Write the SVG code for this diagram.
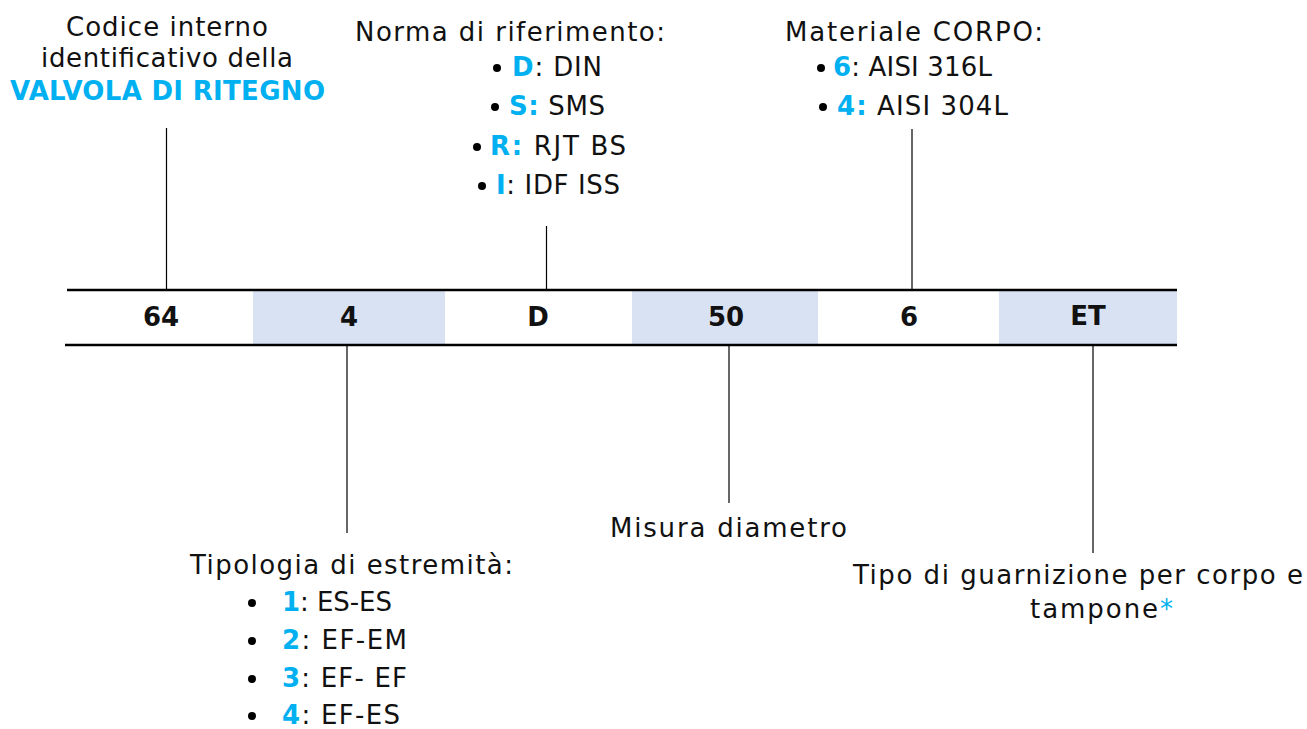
<svg xmlns="http://www.w3.org/2000/svg" width="1307" height="729" viewBox="0 0 1307 729">
<style>
  text { font-family: "DejaVu Sans", "Liberation Sans", sans-serif; fill: #111; }
  .t { font-size: 26px; }
  .b { font-weight: bold; }
  .c { fill: #00B0F0; font-weight: bold; }
  .ast { fill: #00B0F0; }
  .cell { font-size: 26px; font-weight: bold; text-anchor: middle; }
  .blue { fill: #D9E2F3; }
  .rule { stroke: #000; stroke-width: 2.5; }
  .conn line { stroke: #000; stroke-width: 1.2; }
  .dot { fill: #000; }
</style>
<rect width="1307" height="729" fill="#fff"/>

<g id="table">
  <rect class="blue" x="253" y="291" width="192" height="53"/>
  <rect class="blue" x="632" y="291" width="186" height="53"/>
  <rect class="blue" x="999" y="291" width="178" height="53"/>
  <line class="rule" x1="67" y1="290" x2="1177" y2="290"/>
  <line class="rule" x1="65" y1="345" x2="1177" y2="345"/>
  <text class="cell" x="161" y="326">64</text>
  <text class="cell" x="349" y="326">4</text>
  <text class="cell" x="538" y="326">D</text>
  <text class="cell" x="726" y="326">50</text>
  <text class="cell" x="909" y="326">6</text>
  <text class="cell" x="1088" y="325">ET</text>
</g>

<g id="connectors" class="conn">
  <line x1="166.5" y1="128" x2="166.5" y2="290"/>
  <line x1="546.5" y1="226" x2="546.5" y2="290"/>
  <line x1="912" y1="129" x2="912" y2="290"/>
  <line x1="347" y1="346" x2="347" y2="533"/>
  <line x1="729" y1="346" x2="729" y2="503"/>
  <line x1="1093" y1="346" x2="1093" y2="553"/>
</g>

<g id="codice">
  <text class="t" x="66" y="36" textLength="202" lengthAdjust="spacing">Codice interno</text>
  <text class="t" x="41" y="67" textLength="252" lengthAdjust="spacing">identificativo della</text>
  <text class="t c" x="10" y="100" font-size="25" textLength="315" lengthAdjust="spacing">VALVOLA DI RITEGNO</text>
</g>

<g id="norma">
  <text class="t" x="355" y="41" textLength="310" lengthAdjust="spacing">Norma di riferimento:</text>
  <circle class="dot" cx="497" cy="68" r="4"/>
  <text class="t" x="512" y="76" textLength="90" lengthAdjust="spacing"><tspan class="c">D</tspan>: DIN</text>
  <circle class="dot" cx="495" cy="107" r="4"/>
  <text class="t" x="509" y="115" textLength="96" lengthAdjust="spacing"><tspan class="c">S:</tspan> SMS</text>
  <circle class="dot" cx="477" cy="147" r="4"/>
  <text class="t" x="490" y="155" textLength="136" lengthAdjust="spacing"><tspan class="c">R:</tspan> RJT BS</text>
  <circle class="dot" cx="482" cy="186" r="4"/>
  <text class="t" x="496" y="194" textLength="124" lengthAdjust="spacing"><tspan class="c">I</tspan>: IDF ISS</text>
</g>

<g id="materiale">
  <text class="t" x="785" y="41" textLength="258" lengthAdjust="spacing">Materiale CORPO:</text>
  <circle class="dot" cx="821" cy="68" r="4"/>
  <text class="t" x="833" y="76" textLength="159" lengthAdjust="spacing"><tspan class="c">6</tspan>: AISI 316L</text>
  <circle class="dot" cx="823" cy="107" r="4"/>
  <text class="t" x="837" y="115" textLength="171" lengthAdjust="spacing"><tspan class="c">4:</tspan> AISI 304L</text>
</g>

<g id="misura">
  <text class="t" x="610" y="537" textLength="237" lengthAdjust="spacing">Misura diametro</text>
</g>

<g id="tipologia">
  <text class="t" x="190" y="574" textLength="323" lengthAdjust="spacing">Tipologia di estremità:</text>
  <circle class="dot" cx="252" cy="603" r="4"/>
  <text class="t" x="282" y="611" textLength="110" lengthAdjust="spacing"><tspan class="c">1</tspan>: ES-ES</text>
  <circle class="dot" cx="252" cy="641" r="4"/>
  <text class="t" x="282" y="649" textLength="125" lengthAdjust="spacing"><tspan class="c">2</tspan>: EF-EM</text>
  <circle class="dot" cx="252" cy="679" r="4"/>
  <text class="t" x="282" y="687" textLength="125" lengthAdjust="spacing"><tspan class="c">3</tspan>: EF- EF</text>
  <circle class="dot" cx="252" cy="716" r="4"/>
  <text class="t" x="282" y="724" textLength="118" lengthAdjust="spacing"><tspan class="c">4</tspan>: EF-ES</text>
</g>

<g id="guarnizione">
  <text class="t" x="853" y="584" textLength="450" lengthAdjust="spacing">Tipo di guarnizione per corpo e</text>
  <text class="t" x="1030" y="618" textLength="143" lengthAdjust="spacing">tampone<tspan class="ast">*</tspan></text>
</g>
</svg>
